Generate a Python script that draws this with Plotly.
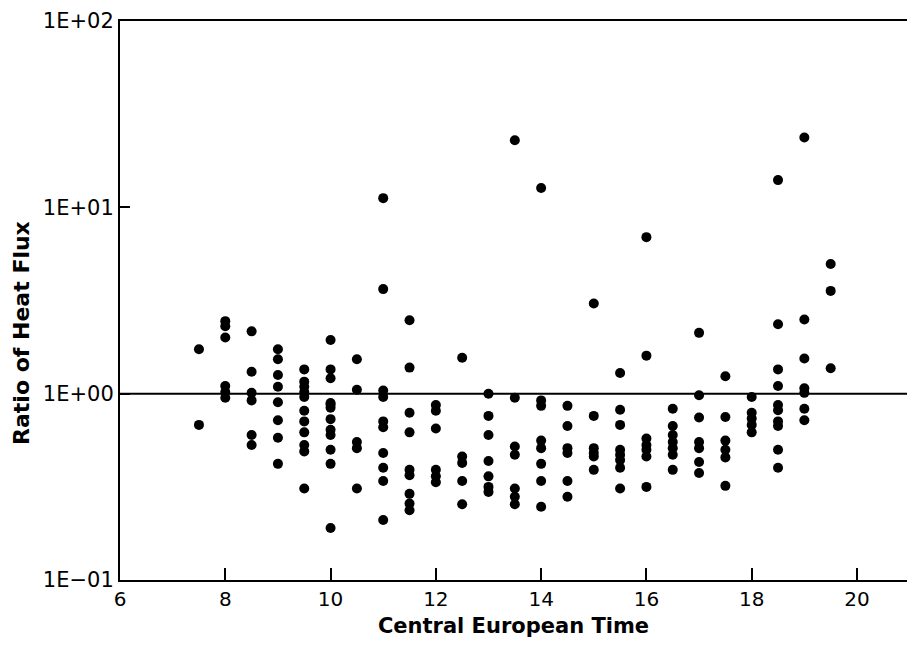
import plotly.graph_objects as go

# Observation times (Central European Time) and ratio of heat flux values per time
time_groups = [7.5, 8.0, 8.5, 9.0, 9.5, 10.0, 10.5, 11.0, 11.5, 12.0, 12.5, 13.0,
               13.5, 14.0, 14.5, 15.0, 15.5, 16.0, 16.5, 17.0, 17.5, 18.0, 18.5, 19.0, 19.5]
ratio_groups = [
    [1.73, 0.68],
    [2.45, 2.30, 2.0, 1.10, 1.02, 0.95],
    [2.16, 1.31, 1.01, 0.92, 0.60, 0.53],
    [1.73, 1.53, 1.26, 1.09, 0.90, 0.72, 0.58, 0.42],
    [1.35, 1.16, 1.09, 1.02, 0.96, 0.81, 0.71, 0.62, 0.53, 0.49, 0.31],
    [1.94, 1.35, 1.21, 0.89, 0.84, 0.875, 0.73, 0.64, 0.60, 0.50, 0.42, 0.19],
    [1.53, 1.05, 0.55, 0.51, 0.31],
    [11.2, 3.64, 1.04, 0.96, 0.71, 0.66, 0.48, 0.40, 0.34, 0.21],
    [2.48, 1.38, 0.79, 0.62, 0.39, 0.365, 0.29, 0.257, 0.237],
    [0.87, 0.81, 0.65, 0.39, 0.36, 0.335],
    [1.56, 0.46, 0.425, 0.34, 0.255],
    [1.0, 0.76, 0.60, 0.435, 0.36, 0.316, 0.297],
    [22.9, 0.95, 0.52, 0.47, 0.31, 0.28, 0.255],
    [12.7, 0.92, 0.86, 0.56, 0.51, 0.42, 0.34, 0.247],
    [0.86, 0.67, 0.51, 0.48, 0.34, 0.28],
    [3.05, 0.76, 0.51, 0.48, 0.46, 0.39],
    [1.29, 0.82, 0.68, 0.50, 0.47, 0.44, 0.40, 0.31],
    [6.92, 1.60, 0.575, 0.53, 0.50, 0.46, 0.316],
    [0.83, 0.67, 0.60, 0.55, 0.51, 0.47, 0.39],
    [2.12, 0.98, 0.745, 0.55, 0.51, 0.43, 0.375],
    [1.24, 0.75, 0.56, 0.50, 0.455, 0.32],
    [0.96, 0.79, 0.735, 0.68, 0.62],
    [14.0, 2.36, 1.35, 1.10, 0.87, 0.815, 0.71, 0.67, 0.50, 0.40],
    [23.7, 2.50, 1.545, 1.07, 1.01, 0.83, 0.72],
    [4.96, 3.56, 1.37],
]

x_ticks = [6, 8, 10, 12, 14, 16, 18, 20]
y_tickvals = [0.1, 1, 10, 100]
y_ticktext = ["1E\u221201", "1E+00", "1E+01", "1E+02"]

times = []
ratios = []
for t, vals in zip(time_groups, ratio_groups):
    for v in vals:
        times.append(t)
        ratios.append(v)

fig = go.Figure()
fig.add_trace(go.Scatter(
    x=times, y=ratios, mode="markers",
    marker=dict(color="black", size=10, line=dict(width=0)),
    showlegend=False, hoverinfo="skip",
))

fig.add_shape(type="line", xref="paper", yref="y", x0=0, x1=1, y0=1, y1=1,
              line=dict(color="black", width=2))

font_family = "DejaVu Sans"

fig.add_annotation(
    text="<b>Ratio of Heat Flux</b>", xref="paper", yref="paper",
    x=-0.1245, y=0.442, textangle=-90, showarrow=False,
    xanchor="center", yanchor="middle",
    font=dict(family=font_family, size=22, color="black"),
)

fig.update_layout(
    width=907, height=650,
    margin=dict(l=120, r=0, t=21, b=70),
    paper_bgcolor="white", plot_bgcolor="white",
    font=dict(family=font_family, color="black", size=20),
    xaxis=dict(
        range=[6, 20.95], tickvals=x_ticks, ticks="inside", ticklen=12, tickwidth=2,
        tickcolor="black", showline=True, linecolor="black", linewidth=2, mirror=True,
        showgrid=False, zeroline=False,
        tickfont=dict(family=font_family, size=20),
        title=dict(text="<b>Central European Time</b>", font=dict(family=font_family, size=21), standoff=8),
    ),
    yaxis=dict(
        type="log", range=[-1, 2], tickvals=y_tickvals, ticktext=y_ticktext,
        ticks="inside", ticklen=10, tickwidth=2, tickcolor="black",
        showline=True, linecolor="black", linewidth=2, mirror=False,
        showgrid=False, zeroline=False,
        tickfont=dict(family=font_family, size=21),
    ),
)

fig.write_html("out.html")
